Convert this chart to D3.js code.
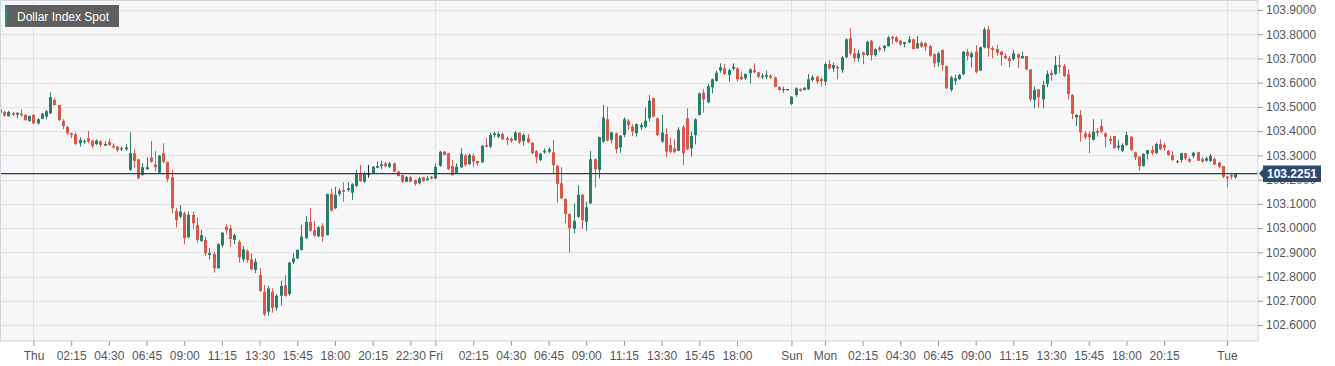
<!DOCTYPE html>
<html><head><meta charset="utf-8">
<script src="https://cdn.jsdelivr.net/npm/d3@7"></script>
<style>
body{margin:0;background:#fff;}
svg{display:block;font-family:"Liberation Sans",Arial,sans-serif;}
</style></head><body>
<svg id="c" width="1335" height="366"></svg>
<script>
const title = "Dollar Index Spot";
const lastPrice = 103.2251;
const yTicks = [102.6,102.7,102.8,102.9,103.0,103.1,103.2,103.3,103.4,103.5,103.6,103.7,103.8,103.9];

const opens = [
103.490,103.480,103.462,103.475,103.468,103.472,103.467,103.442,103.467,103.432,
103.451,103.460,103.474,103.529,103.508,103.442,103.418,103.391,103.387,103.350,
103.355,103.371,103.361,103.347,103.358,103.340,103.355,103.340,103.336,103.325,
103.325,103.240,103.309,103.284,103.219,103.243,103.292,103.263,103.229,103.309,
103.273,103.210,103.071,103.047,103.061,102.962,103.054,103.013,102.947,102.951,
102.889,102.893,102.834,102.929,103.006,102.999,102.951,102.943,102.871,102.905,
102.871,102.827,102.806,102.737,102.655,102.737,102.671,102.721,102.764,102.728,
102.859,102.875,102.910,102.958,103.026,102.992,102.967,103.009,102.971,103.141,
103.082,103.141,103.157,103.157,103.146,103.174,103.226,103.191,103.224,103.226,
103.249,103.256,103.267,103.253,103.267,103.233,103.219,103.191,103.210,103.198,
103.185,103.210,103.198,103.212,103.205,103.257,103.315,103.309,103.256,103.226,
103.251,103.299,103.264,103.299,103.277,103.271,103.343,103.336,103.384,103.377,
103.388,103.371,103.368,103.364,103.394,103.359,103.371,103.352,103.318,103.281,
103.313,103.315,103.313,103.257,103.185,103.120,103.058,102.997,103.047,103.137,
103.026,103.102,103.284,103.240,103.357,103.449,103.364,103.391,103.333,103.384,
103.443,103.418,103.391,103.416,103.418,103.453,103.536,103.453,103.357,103.388,
103.343,103.329,103.319,103.416,103.453,103.329,103.384,103.467,103.559,103.519,
103.581,103.608,103.650,103.659,103.632,103.657,103.659,103.625,103.618,103.639,
103.652,103.643,103.622,103.625,103.629,103.622,103.581,103.570,103.573,103.512,
103.549,103.574,103.570,103.573,103.611,103.625,103.615,103.604,103.677,103.659,
103.666,103.652,103.705,103.783,103.721,103.701,103.725,103.714,103.773,103.714,
103.744,103.742,103.751,103.790,103.787,103.773,103.760,103.767,103.779,103.742,
103.765,103.763,103.751,103.718,103.684,103.735,103.669,103.570,103.608,103.615,
103.635,103.728,103.705,103.728,103.650,103.746,103.820,103.743,103.739,103.728,
103.710,103.701,103.697,103.718,103.701,103.710,103.655,103.529,103.573,103.531,
103.595,103.641,103.636,103.673,103.669,103.635,103.549,103.457,103.467,103.391,
103.388,103.364,103.401,103.421,103.391,103.368,103.380,103.332,103.319,103.343,
103.377,103.313,103.295,103.256,103.306,103.322,103.309,103.347,103.343,103.319,
103.302,103.272,103.281,103.309,103.285,103.297,103.313,103.284,103.278,103.277,
103.285,103.270,103.256,103.212,103.219,103.209];

const highs = [
103.494,103.484,103.484,103.479,103.479,103.490,103.470,103.463,103.470,103.453,
103.476,103.487,103.560,103.536,103.508,103.449,103.421,103.394,103.394,103.375,
103.366,103.401,103.364,103.366,103.361,103.358,103.369,103.350,103.339,103.336,
103.346,103.395,103.325,103.284,103.267,103.292,103.359,103.318,103.302,103.350,
103.273,103.240,103.082,103.095,103.068,103.068,103.068,103.044,102.992,102.965,
102.917,102.903,102.937,102.984,103.016,103.013,102.978,102.951,102.926,102.912,
102.896,102.875,102.834,102.765,102.762,102.751,102.728,102.783,102.806,102.861,
102.896,102.912,103.013,103.050,103.082,103.029,103.009,103.020,103.141,103.164,
103.171,103.164,103.189,103.189,103.185,103.240,103.260,103.233,103.260,103.256,
103.274,103.278,103.273,103.274,103.270,103.237,103.219,103.215,103.215,103.201,
103.211,103.212,103.215,103.215,103.267,103.318,103.318,103.311,103.281,103.267,
103.329,103.306,103.309,103.309,103.277,103.343,103.371,103.394,103.398,103.398,
103.394,103.377,103.375,103.401,103.394,103.391,103.388,103.355,103.322,103.311,
103.329,103.333,103.364,103.260,103.251,103.123,103.061,103.102,103.177,103.141,
103.109,103.318,103.288,103.377,103.508,103.501,103.398,103.395,103.384,103.457,
103.449,103.429,103.432,103.435,103.498,103.549,103.538,103.456,103.467,103.412,
103.371,103.366,103.416,103.425,103.494,103.398,103.453,103.559,103.573,103.595,
103.617,103.650,103.680,103.677,103.659,103.680,103.664,103.645,103.639,103.659,
103.680,103.645,103.639,103.650,103.635,103.625,103.586,103.584,103.574,103.545,
103.581,103.577,103.581,103.636,103.632,103.628,103.622,103.683,103.694,103.683,
103.673,103.710,103.783,103.824,103.742,103.735,103.728,103.773,103.776,103.742,
103.751,103.756,103.794,103.794,103.793,103.776,103.769,103.793,103.782,103.793,
103.773,103.768,103.756,103.721,103.728,103.738,103.670,103.628,103.632,103.636,
103.731,103.739,103.728,103.756,103.749,103.829,103.834,103.751,103.756,103.732,
103.721,103.710,103.735,103.721,103.728,103.710,103.655,103.584,103.573,103.608,
103.650,103.652,103.710,103.714,103.677,103.655,103.553,103.471,103.487,103.402,
103.398,103.449,103.412,103.449,103.394,103.380,103.380,103.364,103.350,103.398,
103.380,103.315,103.298,103.309,103.322,103.339,103.352,103.366,103.352,103.322,
103.318,103.281,103.311,103.311,103.292,103.315,103.315,103.293,103.295,103.306,
103.292,103.274,103.256,103.215,103.226,103.226];

const lows = [
103.474,103.460,103.460,103.463,103.453,103.460,103.443,103.439,103.430,103.427,
103.449,103.449,103.471,103.505,103.442,103.408,103.384,103.371,103.343,103.336,
103.347,103.350,103.329,103.343,103.333,103.339,103.339,103.329,103.313,103.318,
103.319,103.237,103.247,103.202,103.216,103.240,103.270,103.233,103.226,103.267,
103.190,103.061,103.003,103.040,102.933,102.958,102.995,102.940,102.943,102.885,
102.871,102.816,102.832,102.921,102.974,102.923,102.934,102.857,102.861,102.857,
102.824,102.814,102.737,102.637,102.638,102.651,102.659,102.680,102.717,102.721,
102.851,102.872,102.907,102.955,102.985,102.965,102.962,102.944,102.969,103.068,
103.079,103.130,103.109,103.150,103.116,103.168,103.191,103.187,103.208,103.223,
103.247,103.243,103.252,103.247,103.230,103.212,103.187,103.189,103.190,103.175,
103.180,103.191,103.195,103.201,103.201,103.253,103.299,103.240,103.216,103.223,
103.248,103.253,103.260,103.253,103.257,103.270,103.333,103.329,103.375,103.371,
103.364,103.343,103.352,103.359,103.346,103.340,103.350,103.306,103.267,103.277,
103.306,103.309,103.226,103.105,103.119,103.020,102.898,102.978,103.043,102.996,
102.989,103.099,103.168,103.205,103.352,103.357,103.350,103.309,103.311,103.375,
103.405,103.380,103.377,103.405,103.412,103.439,103.457,103.380,103.352,103.292,
103.309,103.309,103.318,103.260,103.322,103.295,103.346,103.464,103.476,103.515,
103.556,103.604,103.641,103.631,103.604,103.650,103.604,103.611,103.611,103.597,
103.639,103.618,103.615,103.615,103.615,103.581,103.567,103.559,103.572,103.508,
103.542,103.563,103.568,103.570,103.604,103.595,103.584,103.588,103.655,103.645,
103.614,103.641,103.701,103.714,103.687,103.687,103.676,103.710,103.691,103.707,
103.728,103.728,103.749,103.759,103.765,103.753,103.746,103.763,103.738,103.739,
103.744,103.731,103.707,103.664,103.666,103.650,103.574,103.563,103.591,103.611,
103.632,103.691,103.664,103.639,103.648,103.742,103.707,103.701,103.711,103.669,
103.697,103.664,103.691,103.659,103.698,103.652,103.522,103.494,103.497,103.494,
103.581,103.608,103.632,103.639,103.622,103.531,103.449,103.421,103.357,103.366,
103.309,103.361,103.377,103.391,103.333,103.346,103.329,103.322,103.313,103.339,
103.319,103.281,103.237,103.253,103.284,103.302,103.306,103.322,103.319,103.298,
103.277,103.267,103.270,103.281,103.270,103.288,103.277,103.270,103.274,103.273,
103.260,103.247,103.205,103.168,103.201,103.204];

const closes = [
103.476,103.464,103.479,103.468,103.475,103.465,103.446,103.463,103.432,103.449,
103.472,103.482,103.540,103.508,103.446,103.421,103.391,103.384,103.347,103.364,
103.359,103.357,103.339,103.361,103.343,103.347,103.343,103.333,103.322,103.330,
103.333,103.309,103.277,103.205,103.251,103.251,103.273,103.251,103.299,103.273,
103.202,103.082,103.033,103.068,102.958,103.054,103.020,102.951,102.971,102.896,
102.897,102.834,102.934,102.981,102.992,102.955,102.971,102.880,102.912,102.868,
102.830,102.861,102.740,102.644,102.751,102.671,102.720,102.761,102.720,102.857,
102.875,102.910,102.965,103.026,102.989,102.969,103.003,102.965,103.141,103.072,
103.137,103.154,103.150,103.164,103.181,103.226,103.194,103.226,103.224,103.253,
103.256,103.263,103.256,103.267,103.233,103.215,103.191,103.210,103.191,103.182,
103.205,103.194,103.205,103.204,103.253,103.315,103.302,103.243,103.219,103.253,
103.306,103.260,103.302,103.274,103.267,103.340,103.336,103.384,103.391,103.388,
103.366,103.364,103.359,103.394,103.354,103.384,103.354,103.309,103.292,103.306,
103.319,103.325,103.260,103.182,103.123,103.058,102.999,103.030,103.137,103.033,
103.086,103.284,103.243,103.375,103.456,103.361,103.395,103.325,103.381,103.449,
103.425,103.398,103.429,103.425,103.443,103.526,103.460,103.384,103.394,103.315,
103.315,103.315,103.405,103.309,103.325,103.380,103.449,103.556,103.531,103.586,
103.614,103.641,103.664,103.636,103.652,103.666,103.614,103.614,103.636,103.655,
103.643,103.625,103.629,103.632,103.621,103.583,103.570,103.574,103.573,103.542,
103.577,103.567,103.579,103.614,103.622,103.604,103.607,103.677,103.659,103.673,
103.659,103.705,103.779,103.721,103.701,103.721,103.714,103.769,103.714,103.738,
103.735,103.752,103.787,103.783,103.769,103.758,103.767,103.779,103.739,103.763,
103.749,103.749,103.711,103.680,103.721,103.673,103.577,103.622,103.618,103.632,
103.728,103.710,103.721,103.643,103.746,103.820,103.742,103.735,103.724,103.714,
103.701,103.690,103.721,103.703,103.710,103.655,103.531,103.570,103.540,103.590,
103.636,103.632,103.673,103.666,103.628,103.553,103.471,103.467,103.394,103.375,
103.375,103.398,103.393,103.398,103.377,103.360,103.329,103.340,103.343,103.384,
103.322,103.292,103.256,103.306,103.322,103.309,103.347,103.325,103.331,103.302,
103.281,103.276,103.309,103.288,103.274,103.311,103.278,103.274,103.288,103.298,
103.263,103.253,103.212,103.205,103.212,103.2251];

// 15-minute candle sessions: [start day, start minute of day, candle count]
const dayNames = ["Sun","Mon","Tue","Wed","Thu","Fri","Sat"];
const sessions = [["Wed", 22*60, 189], ["Sun", 22*60, 107]];
const times = [];
sessions.forEach(([day, start, n]) => {
  let d = dayNames.indexOf(day), m = start;
  for (let i = 0; i < n; i++) {
    times.push(dayNames[d] + " " + String(Math.floor(m/60)).padStart(2,"0") + ":" + String(m%60).padStart(2,"0"));
    m += 15; if (m >= 1440) { m -= 1440; d = (d+1)%7; }
  }
});

const xTickKeys = ["Thu 00:00","Thu 02:15","Thu 04:30","Thu 06:45","Thu 09:00","Thu 11:15","Thu 13:30","Thu 15:45","Thu 18:00","Thu 20:15","Thu 22:30",
  "Fri 00:00","Fri 02:15","Fri 04:30","Fri 06:45","Fri 09:00","Fri 11:15","Fri 13:30","Fri 15:45","Fri 18:00",
  "Sun 22:00","Mon 00:00","Mon 02:15","Mon 04:30","Mon 06:45","Mon 09:00","Mon 11:15","Mon 13:30","Mon 15:45","Mon 18:00","Mon 20:15","Tue 00:00"];
const xTickLabels = ["Thu","02:15","04:30","06:45","09:00","11:15","13:30","15:45","18:00","20:15","22:30",
  "Fri","02:15","04:30","06:45","09:00","11:15","13:30","15:45","18:00",
  "Sun","Mon","02:15","04:30","06:45","09:00","11:15","13:30","15:45","18:00","20:15","Tue"];
const dayLines = ["Thu 00:00","Fri 00:00","Sun 22:00","Mon 00:00","Tue 00:00"];

const svg = d3.select("#c");
const PR = 1258, PB = 341;
const step = 4.1875;
const x = d3.scaleBand().domain(times).range([-1.6, -1.6 + times.length*step]).padding(0);
const y = d3.scaleLinear().domain([102.6, 103.9]).range([325, 10]);
const cx = t => x(t) + x.bandwidth()/2;

svg.append("rect").attr("x",0).attr("y",0).attr("width",1335).attr("height",366).attr("fill","#fff");
svg.append("rect").attr("x",0).attr("y",0).attr("width",PR).attr("height",PB).attr("fill","#f7f7f7");

svg.append("defs").append("clipPath").attr("id","clip").append("rect")
  .attr("x",1).attr("y",1).attr("width",PR-1).attr("height",PB-1);

const grid = svg.append("g");
grid.selectAll("line.h").data(yTicks).join("line").attr("class","h")
  .attr("x1",0).attr("x2",PR)
  .attr("y1",d=>Math.round(y(d))+0.5).attr("y2",d=>Math.round(y(d))+0.5)
  .attr("stroke","#e3e3e3");
grid.selectAll("line.v").data(dayLines).join("line").attr("class","v")
  .attr("x1",d=>Math.floor(cx(d))+0.5).attr("x2",d=>Math.floor(cx(d))+0.5)
  .attr("y1",0).attr("y2",PB)
  .attr("stroke","#e3e3e3");

const data = times.map((t,i)=>({t, o:opens[i], h:highs[i], l:lows[i], c:closes[i]}));
const col = d => d.c > d.o ? "#2a7d6b" : (d.c < d.o ? "#d8594a" : "#222");
const cg = svg.append("g").attr("clip-path","url(#clip)");
cg.selectAll("line.w").data(data).join("line").attr("class","w")
  .attr("x1",d=>Math.floor(cx(d.t))+0.5).attr("x2",d=>Math.floor(cx(d.t))+0.5)
  .attr("y1",d=>y(d.h)).attr("y2",d=>y(d.l))
  .attr("stroke",col).attr("stroke-width",1);
cg.selectAll("rect.b").data(data).join("rect").attr("class","b")
  .attr("x",d=>Math.floor(cx(d.t))-1).attr("width",3)
  .attr("y",d=>y(Math.max(d.o,d.c)))
  .attr("height",d=>Math.max(1, y(Math.min(d.o,d.c)) - y(Math.max(d.o,d.c))))
  .attr("fill",col);

// last price line
svg.append("line").attr("x1",0).attr("x2",PR)
  .attr("y1",y(lastPrice)).attr("y2",y(lastPrice))
  .attr("stroke","#2b3d5c").attr("stroke-width",1.2);

// border
svg.append("rect").attr("x",0.5).attr("y",0.5).attr("width",PR-0.5).attr("height",PB-0.5)
  .attr("fill","none").attr("stroke","#cfd5e1");

// right axis
const ya = svg.append("g").attr("transform",`translate(${PR},0)`)
  .call(d3.axisRight(y).tickValues(yTicks).tickFormat(d3.format(".4f")).tickSize(5).tickPadding(3));
ya.select(".domain").remove();
ya.selectAll(".tick line").attr("stroke","#999");
ya.selectAll(".tick text").attr("fill","#555").style("font-size","12px").style("font-family","Liberation Sans, Arial, sans-serif");

// bottom axis
const xa = svg.append("g").attr("transform",`translate(0,${PB})`)
  .call(d3.axisBottom(x).tickValues(xTickKeys).tickFormat((d,i)=>xTickLabels[i]).tickSize(5).tickPadding(5));
xa.select(".domain").remove();
xa.selectAll(".tick line").attr("stroke","#999");
xa.selectAll(".tick text").attr("fill","#555").style("font-size","12px").style("font-family","Liberation Sans, Arial, sans-serif");

// price tag
const py = y(lastPrice);
svg.append("path")
  .attr("d",`M${PR+1},${py} L${PR+5},${py-4.5} L${PR+5},${py-8} L${PR+63},${py-8} L${PR+63},${py+8.5} L${PR+5},${py+8.5} L${PR+5},${py+4.5} Z`)
  .attr("fill","#2c4a70");
svg.append("text").attr("x",PR+34).attr("y",py+0.5).attr("text-anchor","middle")
  .attr("dominant-baseline","central").attr("fill","#fff")
  .style("font-size","12px").style("font-weight","bold").text(lastPrice.toFixed(4));

// title box
const tg = svg.append("g");
tg.append("rect").attr("x",5).attr("y",5).attr("width",114).attr("height",22).attr("fill","#5f5f5f");
tg.append("rect").attr("x",5).attr("y",5).attr("width",2.5).attr("height",22).attr("fill","#2e8b6f");
tg.append("text").attr("x",17).attr("y",16.5).attr("dominant-baseline","central")
  .attr("fill","#fff").style("font-size","12px").text(title);
</script>
</body></html>
